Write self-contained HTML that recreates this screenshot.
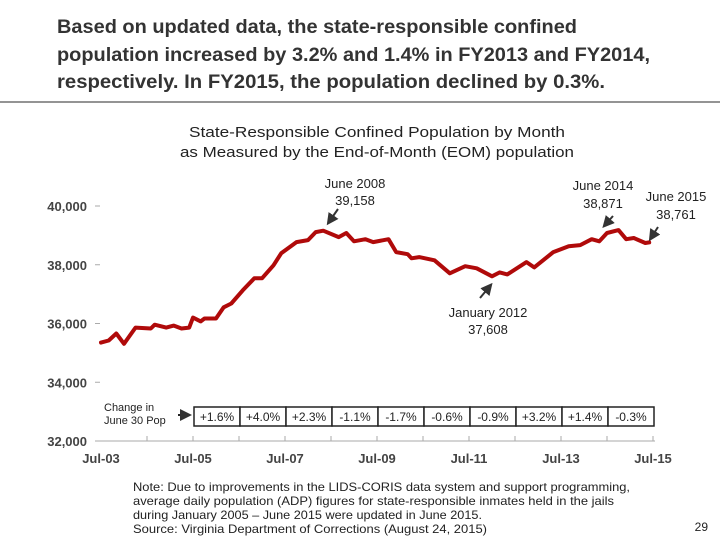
<!DOCTYPE html>
<html><head><meta charset="utf-8"><style>
body{margin:0;background:#fff;}
svg{display:block;font-family:"Liberation Sans",Arial,sans-serif;}
</style></head><body>
<svg width="720" height="540" viewBox="0 0 720 540">
<g font-weight="bold" font-size="19" fill="#333">
<text x="57" y="33" textLength="520" lengthAdjust="spacingAndGlyphs">Based on updated data, the state-responsible confined</text>
<text x="57" y="61" textLength="593" lengthAdjust="spacingAndGlyphs">population increased by 3.2% and 1.4% in FY2013 and FY2014,</text>
<text x="57" y="88" textLength="548" lengthAdjust="spacingAndGlyphs">respectively.  In FY2015, the population declined by 0.3%.</text>
</g>
<line x1="0" y1="102" x2="720" y2="102" stroke="#555" stroke-width="1.2"/>
<g font-size="15" fill="#222">
<text x="189" y="137" textLength="376" lengthAdjust="spacingAndGlyphs">State-Responsible Confined Population by Month</text>
<text x="180" y="157" textLength="394" lengthAdjust="spacingAndGlyphs">as Measured by the End-of-Month (EOM) population</text>
</g>
<g id="yaxis"></g>
<g id="xaxis"></g>
<g id="series"></g>
<g id="changes"></g>
<g font-size="13" fill="#222" text-anchor="middle">
<text x="355" y="188">June 2008</text>
<text x="355" y="205">39,158</text>
<text x="603" y="190">June 2014</text>
<text x="603" y="208">38,871</text>
<text x="676" y="201">June 2015</text>
<text x="676" y="219">38,761</text>
<text x="488" y="317">January 2012</text>
<text x="488" y="334">37,608</text>
</g>
<defs><marker id="ah" markerWidth="6" markerHeight="6" refX="4" refY="3" orient="auto"><path d="M0,0 L6,3 L0,6 Z" fill="#333"/></marker></defs>
<g stroke="#333" stroke-width="2">
<line x1="338" y1="209" x2="329" y2="222" marker-end="url(#ah)"/>
<line x1="613" y1="216" x2="605" y2="225" marker-end="url(#ah)"/>
<line x1="658" y1="227" x2="651" y2="238" marker-end="url(#ah)"/>
<line x1="480" y1="298" x2="490" y2="286" marker-end="url(#ah)"/>
</g>
<g font-size="11" fill="#222">
<text x="104" y="411">Change in</text>
<text x="104" y="424">June 30 Pop</text>
</g>
<line x1="178" y1="415" x2="188" y2="415" stroke="#222" stroke-width="2" marker-end="url(#ah)"/>
<g font-size="12" fill="#222">
<text x="133" y="491" textLength="497" lengthAdjust="spacingAndGlyphs">Note:  Due to improvements in the LIDS-CORIS data system and support programming,</text>
<text x="133" y="505" textLength="481" lengthAdjust="spacingAndGlyphs">average daily population (ADP) figures for state-responsible inmates held in the jails</text>
<text x="133" y="519" textLength="349" lengthAdjust="spacingAndGlyphs">during January 2005 – June 2015 were updated in June 2015.</text>
<text x="133" y="533" textLength="354" lengthAdjust="spacingAndGlyphs">Source:  Virginia Department of Corrections (August 24, 2015)</text>
</g>
<text x="708" y="531" font-size="12" fill="#222" text-anchor="end">29</text>
</svg>
<script>
const months=[0,2,4,6,9,13,14,17,19,21,23,24,26,27,30,32,34,37,40,42,45,47,51,54,56,58,62,64,66,69,71,75,77,80,81,83,87,91,95,98,102,104,106,111,113,118,122,125,128,130,132,135,137,139,142,143];
const pop=[35350,35420,35660,35310,35860,35830,35960,35860,35930,35830,35860,36200,36070,36170,36170,36550,36680,37130,37540,37540,37980,38390,38770,38840,39110,39158,38940,39080,38800,38870,38770,38870,38430,38360,38220,38260,38150,37710,37950,37880,37608,37740,37670,38090,37910,38430,38630,38670,38871,38800,39080,39180,38870,38910,38740,38761];
const yTicks=[32000,34000,36000,38000,40000];
const yTickLabels=["32,000","34,000","36,000","38,000","40,000"];
const xTickYears=[0,2,4,6,8,10,12];
const xTickLabels=["Jul-03","Jul-05","Jul-07","Jul-09","Jul-11","Jul-13","Jul-15"];
const changes=["+1.6%","+4.0%","+2.3%","-1.1%","-1.7%","-0.6%","-0.9%","+3.2%","+1.4%","-0.3%"];
const NS="http://www.w3.org/2000/svg";
const X=m=>101+m*46/12;
const Y=v=>441-(v-32000)*(235/8000);
function mk(t,a,p){const e=document.createElementNS(NS,t);for(const k in a)e.setAttribute(k,a[k]);p.appendChild(e);return e;}
const ya=document.getElementById('yaxis');
yTicks.forEach((v,i)=>{
 const t=mk('text',{x:87,y:Y(v)+5,'text-anchor':'end','font-size':13,'font-weight':'bold',fill:'#444'},ya);
 t.textContent=yTickLabels[i];
 
 
 if(v>32000){const l=mk('line',{x1:95,x2:100,y1:Y(v),y2:Y(v),stroke:'#aaa'},ya);
 
 }
});
const xa=document.getElementById('xaxis');
const al=mk('line',{x1:95,x2:X(144)+2,y1:441,y2:441,stroke:'#aaa'},xa);


for(let yr=1;yr<=12;yr++){const l=mk('line',{x1:X(yr*12),x2:X(yr*12),y1:436,y2:441,stroke:'#aaa'},xa);
 
 }
xTickYears.forEach((yr,i)=>{const t=mk('text',{x:X(yr*12),y:463,'text-anchor':'middle','font-size':13,'font-weight':'bold',fill:'#444'},xa);
 t.textContent=xTickLabels[i];
 
 });
const s=document.getElementById('series');
const pl=mk('polyline',{points:months.map((m,i)=>X(m).toFixed(1)+','+Y(pop[i]).toFixed(1)).join(' '),fill:'none',stroke:'#b00a0a','stroke-width':4,'stroke-linejoin':'round','stroke-linecap':'round'},s);


const cg=document.getElementById('changes');
changes.forEach((c,i)=>{const x0=X(24+i*12)+1,w=46;
 const r=mk('rect',{x:x0,y:407,width:w,height:19,fill:'#fff',stroke:'#222','stroke-width':1.5},cg);
 
 
 const t=mk('text',{x:x0+w/2,y:421,'text-anchor':'middle','font-size':12,fill:'#222'},cg);
 t.textContent=c;
 
 });
</script>
</body></html>
